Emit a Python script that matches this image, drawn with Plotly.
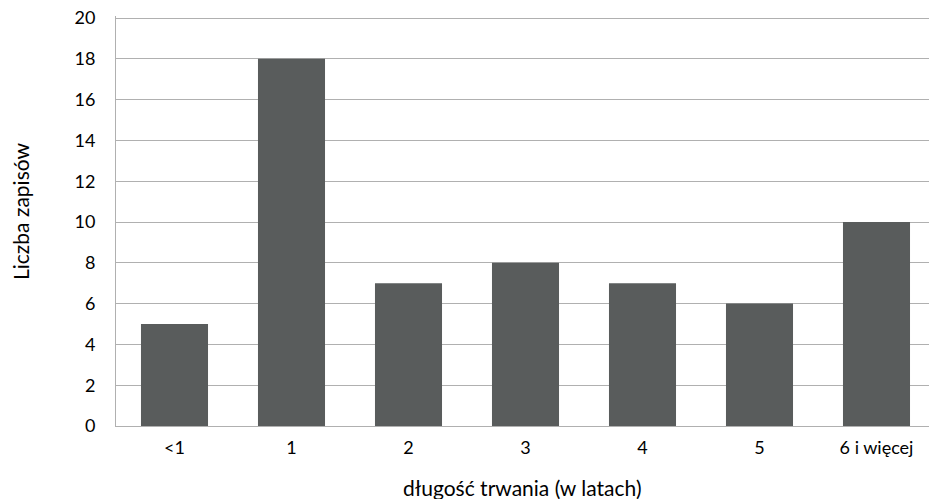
import plotly.graph_objects as go

categories = ["<1", "1", "2", "3", "4", "5", "6 i więcej"]
values = [5, 18, 7, 8, 7, 6, 10]
y_ticks = [0, 2, 4, 6, 8, 10, 12, 14, 16, 18, 20]

VW, VH = 929, 499
PLOT_L, PLOT_B = 116, 426
Y_TOP_VAL = 20.1           # little headroom so the 20 gridline/label is drawn
PX_PER_UNIT = (426 - 18) / 20.0
PLOT_T = PLOT_B - Y_TOP_VAL * PX_PER_UNIT
CAT_W = 117.0

W, H = VW, VH
L = PLOT_L
T = PLOT_T
B = H - PLOT_B
R = 0
pw = W - L - R
ph = H - T - B

fig = go.Figure(go.Bar(
    x=categories, y=values,
    marker=dict(color="#595c5c", line=dict(width=0)),
))

font = dict(family="Lato, 'Open Sans', sans-serif", size=18, color="#000000")
title_font = dict(font, size=21)

fig.update_layout(
    width=W, height=H,
    margin=dict(l=L, r=R, t=T, b=B, pad=0),
    plot_bgcolor="white", paper_bgcolor="white",
    bargap=0.427,
    showlegend=False,
    font=font,
    xaxis=dict(
        type="category",
        range=[-0.5, -0.5 + pw / CAT_W],
        showgrid=False, zeroline=False,
        showline=True, linecolor="#b0b0b0", linewidth=1,
        ticks="", ticklabelstandoff=5,
        tickfont=font,
    ),
    yaxis=dict(
        range=[0, Y_TOP_VAL],
        tickvals=y_ticks,
        showgrid=True, gridcolor="#b0b0b0", gridwidth=1,
        zeroline=False,
        showline=True, linecolor="#b0b0b0", linewidth=1,
        ticks="", ticklabelstandoff=16,
        ticklabeloverflow="allow",
        tickfont=font,
    ),
    annotations=[
        dict(text="długość trwania (w latach)", xref="paper", yref="paper",
             x=0.5, y=0, yshift=-(487 - PLOT_B), showarrow=False,
             xanchor="center", yanchor="middle", font=title_font),
        dict(text="Liczba zapisów", xref="paper", yref="paper",
             x=(20 - PLOT_L) / pw, y=(PLOT_B - 212) / ph, textangle=-90, showarrow=False,
             xanchor="center", yanchor="middle", font=title_font),
    ],
)

fig.write_html("out.html", config={"displayModeBar": False},
               post_script="document.body.style.margin='0';")
